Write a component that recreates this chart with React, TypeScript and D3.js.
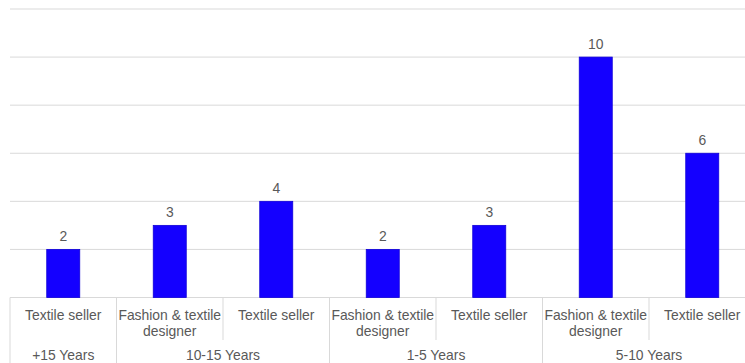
import React from "react";
import * as d3 from "d3";

const categories: string[][] = [
  ["Textile seller"],
  ["Fashion & textile", "designer"],
  ["Textile seller"],
  ["Fashion & textile", "designer"],
  ["Textile seller"],
  ["Fashion & textile", "designer"],
  ["Textile seller"],
];
const groupOf: number[] = [0, 1, 1, 2, 2, 3, 3];
const groups: string[] = ["+15 Years", "10-15 Years", "1-5 Years", "5-10 Years"];
const values: number[] = [2, 3, 4, 2, 3, 10, 6];
const yTicks: number[] = [0, 2, 4, 6, 8, 10, 12];

const W = 745;
const H = 363;
const left = 10;
const right = 755.5;
const top = 9;
const base = 297.5;

export default function App() {
  const x = d3
    .scaleBand<number>()
    .domain(values.map((_, i) => i))
    .range([left, right])
    .padding(0);
  const y = d3.scaleLinear().domain([0, 12]).range([base, top]);
  const bw = x.bandwidth();
  const barW = bw * 0.31;
  const font = "'Liberation Sans', Arial, sans-serif";
  const textFill = "#595959";
  const lineColor = "#d9d9d9";
  const fs = 13.9;

  const spans = groups.map((g, gi) => {
    const idx = groupOf.map((v, i) => (v === gi ? i : -1)).filter((i) => i >= 0);
    const x0 = x(idx[0])!;
    const x1 = x(idx[idx.length - 1])! + bw;
    return { g, x0, x1, idx };
  });

  return (
    <svg
      width={W}
      height={H}
      style={{ position: "absolute", left: 0, top: 0, background: "#fff" }}
      fontFamily={font}
    >
      {yTicks.map((t) => (
        <line
          key={t}
          x1={left}
          x2={right}
          y1={y(t)}
          y2={y(t)}
          stroke={lineColor}
          strokeWidth={1}
        />
      ))}
      {values.map((v, i) => {
        const bx = x(i)! + (bw - barW) / 2;
        return (
          <g key={i}>
            <rect
              x={bx}
              y={y(v)}
              width={barW}
              height={base - y(v)}
              fill="#1400ff"
              stroke="#1000d8"
              strokeWidth={0.8}
            />
            <text
              x={bx + barW / 2}
              y={y(v) - 8}
              textAnchor="middle"
              fontSize={fs}
              fill={textFill}
            >
              {v}
            </text>
          </g>
        );
      })}
      {categories.map((lines, i) => (
        <text
          key={i}
          x={x(i)! + bw / 2}
          y={320}
          textAnchor="middle"
          fontSize={fs}
          fill={textFill}
        >
          {lines.map((l, k) => (
            <tspan key={k} x={x(i)! + bw / 2} dy={k === 0 ? 0 : 16}>
              {l}
            </tspan>
          ))}
        </text>
      ))}
      {values.map((_, i) => {
        if (i === 0) return null;
        const isGroupEdge = groupOf[i] !== groupOf[i - 1];
        if (isGroupEdge) return null;
        return (
          <line
            key={"s" + i}
            x1={x(i)!}
            x2={x(i)!}
            y1={base}
            y2={340}
            stroke={lineColor}
          />
        );
      })}
      {spans.map((s, gi) => (
        <line
          key={"g" + gi}
          x1={s.x0}
          x2={s.x0}
          y1={base}
          y2={H}
          stroke={lineColor}
        />
      ))}
      <line x1={right} x2={right} y1={base} y2={H} stroke={lineColor} />
      {spans.map((s, gi) => (
        <text
          key={"gl" + gi}
          x={(s.x0 + s.x1) / 2}
          y={359.5}
          textAnchor="middle"
          fontSize={fs}
          fill={textFill}
        >
          {s.g}
        </text>
      ))}
    </svg>
  );
}
